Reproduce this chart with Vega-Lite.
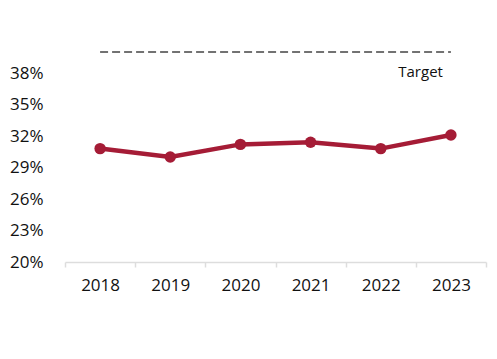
{
  "$schema": "https://vega.github.io/schema/vega-lite/v6.json",
  "width": 421,
  "height": 210,
  "autosize": "none",
  "padding": {"left": 65, "top": 52, "right": 11, "bottom": 97},
  "config": {"view": {"stroke": null}, "font": "Open Sans"},
  "datasets": {
    "series": [
      {"year": "2018", "value": 30.8},
      {"year": "2019", "value": 30.0},
      {"year": "2020", "value": 31.2},
      {"year": "2021", "value": 31.4},
      {"year": "2022", "value": 30.8},
      {"year": "2023", "value": 32.1}
    ],
    "targetline": [{"year": "2018", "year_end": "2023", "value": 40}],
    "targetlabel": [{"year": "2023", "value": 40, "label": "Target"}]
  },
  "encoding": {
    "x": {
      "field": "year",
      "type": "ordinal",
      "scale": {"paddingInner": 0, "paddingOuter": 0},
      "axis": {
        "title": null,
        "labelAngle": 0,
        "labelFontSize": 17,
        "labelColor": "#111111",
        "labelPadding": 10,
        "tickBand": "extent",
        "tickSize": 5,
        "tickColor": "#dddddd",
        "domainColor": "#dddddd",
        "tickWidth": 1.5,
        "domainWidth": 1.5
      }
    },
    "y": {
      "field": "value",
      "type": "quantitative",
      "scale": {"domain": [20, 40], "nice": false, "zero": false},
      "axis": {
        "title": null,
        "values": [20, 23, 26, 29, 32, 35, 38],
        "labelExpr": "datum.value + '%'",
        "grid": false,
        "domain": false,
        "ticks": false,
        "labelPadding": 22,
        "labelFontSize": 17,
        "labelColor": "#111111"
      }
    }
  },
  "layer": [
    {
      "data": {"name": "targetline"},
      "mark": {"type": "rule", "stroke": "#444444", "strokeWidth": 1.5, "strokeDash": [8, 4]},
      "encoding": {"x2": {"field": "year_end"}}
    },
    {
      "data": {"name": "targetlabel"},
      "mark": {"type": "text", "align": "right", "baseline": "middle", "dx": -8, "dy": 20, "fontSize": 15, "color": "#111111"},
      "encoding": {"text": {"field": "label"}}
    },
    {
      "data": {"name": "series"},
      "mark": {"type": "line", "color": "#A51C36", "strokeWidth": 4.5, "point": {"filled": true, "size": 130, "color": "#A51C36"}},
      "encoding": {}
    }
  ]
}
